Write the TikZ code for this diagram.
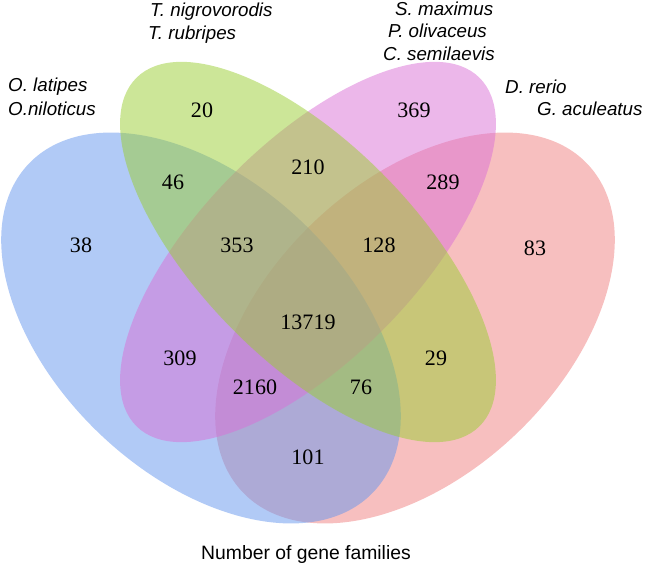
\documentclass[tikz,border=0pt]{standalone}
\usepackage{fontspec}
\setmainfont{Liberation Serif}
\setsansfont{Liberation Sans}
\usetikzlibrary{positioning}
\definecolor{mblue}{RGB}{100,149,237}
\definecolor{mgreen}{RGB}{154,205,50}
\definecolor{mpink}{RGB}{218,112,214}
\definecolor{mred}{RGB}{240,128,128}
\tikzset{set/.style = {opacity=0.5}}
\tikzset{count/.style = {font=\fontsize{18.8}{20}\selectfont, inner sep=0}}
\tikzset{species/.style = {font=\sffamily\itshape\fontsize{16}{18}\selectfont, anchor=west, inner sep=0}}

\begin{document}
\begin{tikzpicture}[x=0.03cm, y=-0.03cm]
      \useasboundingbox (0,0) rectangle (663,566);

      \fill [mred, set, shift={(415,328)}, rotate=43.6] (0,0) ellipse [x radius=238, y radius=146.5];
      \fill [mblue, set, shift={(201,328)}, rotate=-43.6] (0,0) ellipse [x radius=238, y radius=146.5];
      \fill [mpink, set, shift={(308,252)}, rotate=45.5] (0,0) ellipse [x radius=244.5, y radius=108];
      \fill [mgreen, set, shift={(308,252)}, rotate=-45.5] (0,0) ellipse [x radius=244.5, y radius=108];

      \node [count] (onlyB) at (202,110) {20};
      \node [count] (onlyC) at (414,110) {369};
      \node [count] (bc) at (308,167) {210};
      \node [count] (ab) at (173,182) {46};
      \node [count] (cd) at (443,182) {289};
      \node [count] (onlyA) at (81,245) {38};
      \node [count] (abc) at (237,245) {353};
      \node [count] (bcd) at (379,245) {128};
      \node [count] (onlyD) at (535,248) {83};
      \node [count] (abcd) at (308,322) {13719};
      \node [count] (ac) at (180,358) {309};
      \node [count] (bd) at (436,358) {29};
      \node [count] (acd) at (255,387) {2160};
      \node [count] (abd) at (361,387) {76};
      \node [count] (ad) at (308,457) {101};

      \node [species] (tnig) at (150,12) {T. nigrovorodis};
      \node [species] (trub) at (148,35) {T. rubripes};
      \node [species] (smax) at (395,9) {S. maximus};
      \node [species] (poli) at (388,31) {P. olivaceus};
      \node [species] (csem) at (383,54) {C. semilaevis};
      \node [species] (olat) at (8,87) {O. latipes};
      \node [species] (onil) at (8,109) {O.niloticus};
      \node [species] (drer) at (505,87) {D. rerio};
      \node [species] (gacu) at (537,109) {G. aculeatus};

      \node [font=\sffamily\fontsize{16.5}{18}\selectfont] (caption) at (306,555) {Number of gene families};
    \end{tikzpicture}
\end{document}
